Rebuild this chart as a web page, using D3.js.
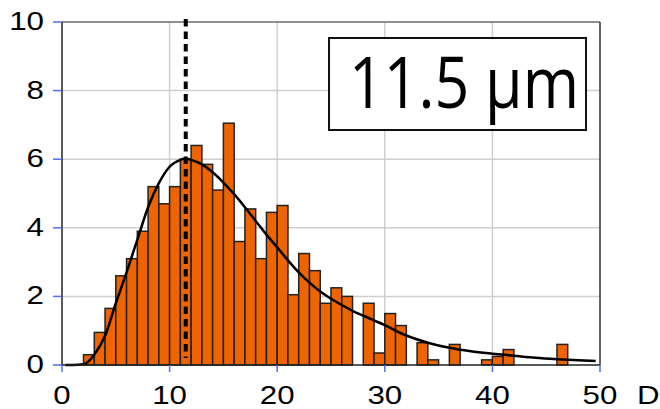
<!DOCTYPE html>
<html>
<head>
<meta charset="utf-8">
<script src="https://cdn.jsdelivr.net/npm/d3@7"></script>
<style>
  html, body { margin: 0; padding: 0; background: #fff; }
  svg { display: block; }
</style>
</head>
<body>
<svg id="chart" width="660" height="409"></svg>
<script>
// Histogram of diameters D (1-unit bins), fitted curve and the mean marker
const binStarts = [2, 3, 4, 5, 6, 7, 8, 9, 10, 11, 12, 13, 14, 15, 16, 17, 18, 19, 20,
  21, 22, 23, 24, 25, 26, 27, 28, 29, 30, 31, 32, 33, 34, 35, 36, 37, 38, 39, 40,
  41, 42, 43, 44, 45, 46];
const binValues = [0.3, 0.95, 1.65, 2.6, 3.1, 3.9, 5.2, 4.7, 5.2, 6.0, 6.4, 5.85, 5.1,
  7.05, 3.6, 4.55, 3.1, 4.45, 4.65, 2.05, 3.25, 2.75, 1.8, 2.25, 2.0, 0, 1.8, 0.35,
  1.5, 1.15, 0, 0.65, 0.15, 0, 0.6, 0, 0, 0.15, 0.25, 0.45, 0, 0, 0, 0, 0.6];

// Fitted distribution curve, sampled along D
const fitX = [0.3, 1, 2, 3, 4, 5, 6, 7, 8, 9, 10, 11, 11.5, 12, 13, 14, 15, 16, 17, 18,
  19, 20, 21, 22, 23, 24, 25, 26, 27, 28, 29, 30, 32, 34, 36, 38, 40, 42, 44, 46, 48, 49.6];
const fitY = [0, 0, 0.02, 0.3, 0.85, 1.8, 2.7, 3.65, 4.6, 5.3, 5.78, 5.98, 6.02, 5.98,
  5.85, 5.62, 5.32, 4.98, 4.6, 4.2, 3.8, 3.43, 3.05, 2.7, 2.4, 2.14, 1.93, 1.75, 1.58,
  1.44, 1.3, 1.16, 0.86, 0.65, 0.5, 0.4, 0.33, 0.27, 0.21, 0.17, 0.14, 0.12];

const meanD = 11.5;
const meanLabel = "11.5 µm";
const xTicks = [0, 10, 20, 30, 40, 50];
const yTicks = [0, 2, 4, 6, 8, 10];
const xAxisTitle = "D";

const svg = d3.select("#chart");
const x = d3.scaleLinear().domain([0, 50]).range([62, 600]);
const y = d3.scaleLinear().domain([0, 10]).range([365, 22]);

const labelFont = "'Liberation Sans', Arial, sans-serif";

// grid
svg.append("g").selectAll("line.vg")
  .data(xTicks.filter(d => d > 0 && d < 50))
  .join("line")
  .attr("x1", d => x(d)).attr("x2", d => x(d))
  .attr("y1", y(10)).attr("y2", y(0))
  .attr("stroke", "#cfcfcf").attr("stroke-width", 1.5);
svg.append("g").selectAll("line.hg")
  .data(yTicks.filter(d => d > 0 && d < 10))
  .join("line")
  .attr("x1", x(0)).attr("x2", x(50))
  .attr("y1", d => y(d)).attr("y2", d => y(d))
  .attr("stroke", "#cfcfcf").attr("stroke-width", 1.5);

// frame: top and right edges
svg.append("line").attr("x1", x(0)).attr("x2", x(50)).attr("y1", y(10)).attr("y2", y(10))
  .attr("stroke", "#6a6a6a").attr("stroke-width", 1.5);
svg.append("line").attr("x1", x(50)).attr("x2", x(50)).attr("y1", y(10)).attr("y2", y(0))
  .attr("stroke", "#333").attr("stroke-width", 1.5);

// bars
const bars = binStarts.map((s, i) => ({ s, v: binValues[i] })).filter(d => d.v > 0);
svg.append("g").selectAll("rect")
  .data(bars)
  .join("rect")
  .attr("x", d => x(d.s))
  .attr("y", d => y(d.v))
  .attr("width", d => x(d.s + 1) - x(d.s))
  .attr("height", d => y(0) - y(d.v))
  .attr("fill", "#ee6400")
  .attr("stroke", "#222")
  .attr("stroke-width", 1.5);

// fitted curve
const line = d3.line()
  .x((d, i) => x(fitX[i]))
  .y(d => y(d))
  .curve(d3.curveMonotoneX);
svg.append("path")
  .attr("d", line(fitY))
  .attr("fill", "none")
  .attr("stroke", "#000")
  .attr("stroke-width", 2.5);

// mean marker
svg.append("line")
  .attr("x1", x(meanD)).attr("x2", x(meanD))
  .attr("y1", 19).attr("y2", 358)
  .attr("stroke", "#000").attr("stroke-width", 4)
  .attr("stroke-dasharray", "7.5,5");

// axes lines
svg.append("line").attr("x1", x(0)).attr("x2", x(0)).attr("y1", y(10)).attr("y2", y(0))
  .attr("stroke", "#222").attr("stroke-width", 1.5);
svg.append("line").attr("x1", x(0)).attr("x2", x(50)).attr("y1", y(0)).attr("y2", y(0))
  .attr("stroke", "#222").attr("stroke-width", 1.5);

// tick marks
svg.append("g").selectAll("line")
  .data(yTicks).join("line")
  .attr("x1", 53).attr("x2", x(0))
  .attr("y1", d => y(d)).attr("y2", d => y(d))
  .attr("stroke", "#4f6ff0").attr("stroke-width", 1.5);
svg.append("g").selectAll("line")
  .data(xTicks).join("line")
  .attr("x1", d => x(d)).attr("x2", d => x(d))
  .attr("y1", y(0)).attr("y2", y(0) + 7)
  .attr("stroke", "#4f6ff0").attr("stroke-width", 1.5);

// tick labels (wide face)
svg.append("g").selectAll("text")
  .data(yTicks).join("text")
  .attr("transform", d => `translate(44,${y(d) + 8}) scale(1.25,1)`)
  .attr("text-anchor", "end")
  .attr("font-family", labelFont)
  .attr("font-size", 25)
  .attr("fill", "#000")
  .text(d => d);
svg.append("g").selectAll("text")
  .data(xTicks).join("text")
  .attr("transform", d => `translate(${x(d)},404) scale(1.25,1)`)
  .attr("text-anchor", "middle")
  .attr("font-family", labelFont)
  .attr("font-size", 25)
  .attr("fill", "#000")
  .text(d => d);
svg.append("text")
  .attr("transform", "translate(637,404) scale(1.25,1)")
  .attr("font-family", labelFont)
  .attr("font-size", 25)
  .attr("fill", "#000")
  .text(xAxisTitle);

// annotation box
svg.append("rect")
  .attr("x", 329).attr("y", 38)
  .attr("width", 257).attr("height", 92)
  .attr("fill", "#fff").attr("stroke", "#111").attr("stroke-width", 2);
svg.append("text")
  .attr("x", 349).attr("y", 108)
  .attr("font-family", "'Open Sans', 'Noto Sans', sans-serif")
  .attr("font-size", 72)
  .attr("textLength", 230)
  .attr("lengthAdjust", "spacingAndGlyphs")
  .attr("fill", "#000")
  .text(meanLabel);
</script>
</body>
</html>
